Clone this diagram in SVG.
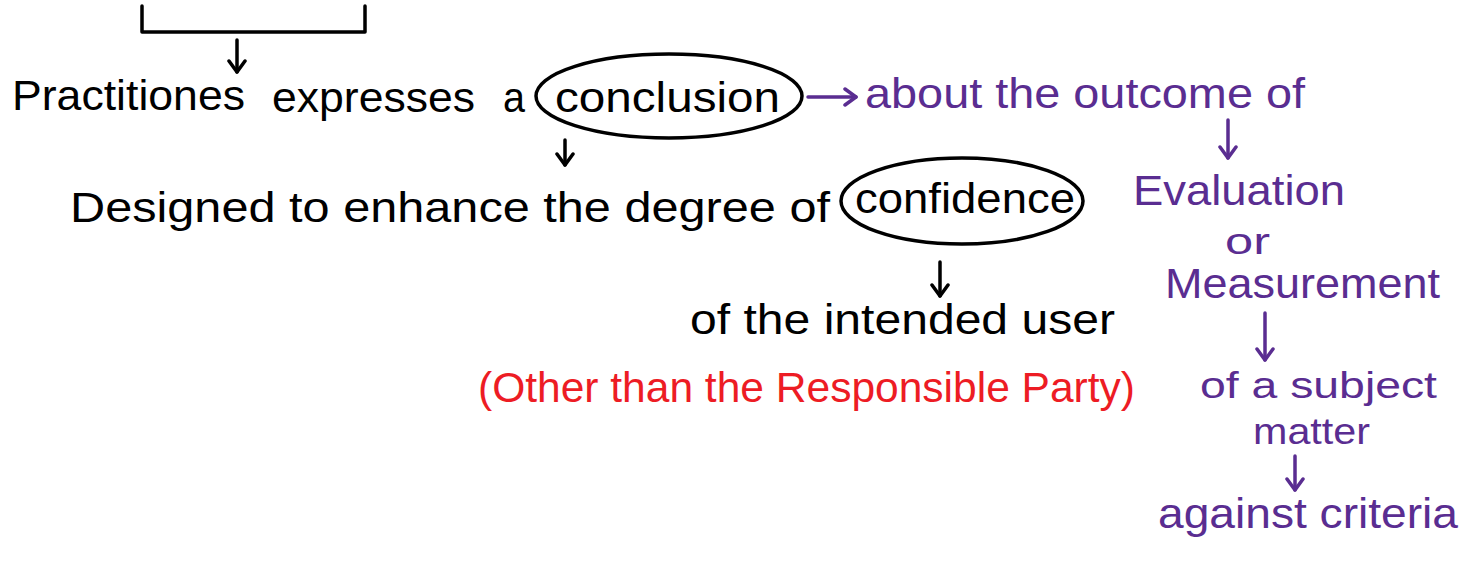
<svg xmlns="http://www.w3.org/2000/svg" width="1461" height="567" viewBox="0 0 1461 567">
<style>
text{font-family:"Liberation Sans","DejaVu Sans",sans-serif;font-size:42px;}
.k{fill:#000;}
.p{fill:#5a2d91;}
.r{fill:#ed1c24;}
.sm{font-size:36px;}
.line{fill:none;stroke-width:3.5;stroke-linecap:round;stroke-linejoin:round;}
.ck{stroke:#000;}
.cp{stroke:#5a2d91;}
</style>
<defs>
<marker id="hk" viewBox="0 0 20 20" refX="16" refY="10" markerWidth="20" markerHeight="20" markerUnits="userSpaceOnUse" orient="auto">
<path d="M5,2 L16,10 L5,18" fill="none" stroke="#000" stroke-width="3.5" stroke-linecap="round" stroke-linejoin="round"/>
</marker>
<marker id="hp" viewBox="0 0 20 20" refX="16" refY="10" markerWidth="20" markerHeight="20" markerUnits="userSpaceOnUse" orient="auto">
<path d="M5,2 L16,10 L5,18" fill="none" stroke="#5a2d91" stroke-width="3.5" stroke-linecap="round" stroke-linejoin="round"/>
</marker>
</defs>
<rect width="1461" height="567" fill="#fff"/>

<g id="bracket">
<path class="line ck" d="M142,6 L142,32 L365,32 L365,6"/>
</g>

<g id="node-practitioner">
<text class="k" x="12" y="110" textLength="233" lengthAdjust="spacingAndGlyphs">Practitiones</text>
<text class="k" x="272" y="112" textLength="203" lengthAdjust="spacingAndGlyphs">expresses</text>
<text class="k" x="503" y="112" textLength="22" lengthAdjust="spacingAndGlyphs">a</text>
</g>

<g id="node-conclusion">
<ellipse cx="669" cy="96" rx="133" ry="42" fill="none" stroke="#000" stroke-width="3.5"/>
<text class="k" x="555" y="112" textLength="225" lengthAdjust="spacingAndGlyphs">conclusion</text>
</g>

<g id="node-about">
<text class="p" x="865" y="108" textLength="440" lengthAdjust="spacingAndGlyphs">about the outcome of</text>
</g>

<g id="node-designed">
<text class="k" x="70" y="222" textLength="760" lengthAdjust="spacingAndGlyphs">Designed to enhance the degree of</text>
</g>

<g id="node-confidence">
<ellipse cx="962" cy="201" rx="121" ry="43" fill="none" stroke="#000" stroke-width="3.5"/>
<text class="k" x="855" y="213" textLength="220" lengthAdjust="spacingAndGlyphs">confidence</text>
</g>

<g id="node-user">
<text class="k" x="690" y="334" textLength="425" lengthAdjust="spacingAndGlyphs">of the intended user</text>
</g>

<g id="node-other">
<text class="r" x="478" y="402" textLength="657" lengthAdjust="spacingAndGlyphs">(Other than the Responsible Party)</text>
</g>

<g id="node-evaluation">
<text class="p" x="1133" y="205" textLength="212" lengthAdjust="spacingAndGlyphs">Evaluation</text>
<text class="p sm" x="1225" y="254" textLength="45" lengthAdjust="spacingAndGlyphs">or</text>
<text class="p" x="1165" y="298" textLength="275" lengthAdjust="spacingAndGlyphs">Measurement</text>
</g>

<g id="node-subject">
<text class="p sm" x="1200" y="398" textLength="237" lengthAdjust="spacingAndGlyphs">of a subject</text>
<text class="p sm" x="1253" y="444" textLength="117" lengthAdjust="spacingAndGlyphs">matter</text>
</g>

<g id="node-criteria">
<text class="p" x="1158" y="528" textLength="300" lengthAdjust="spacingAndGlyphs">against criteria</text>
</g>

<g id="connectors">
<path class="line ck" d="M237,40 L237,72" marker-end="url(#hk)"/>
<path class="line cp" d="M808,97 L856,97" marker-end="url(#hp)"/>
<path class="line ck" d="M565,140 L565,165" marker-end="url(#hk)"/>
<path class="line ck" d="M940,262 L940,296" marker-end="url(#hk)"/>
<path class="line cp" d="M1228,120 L1228,158" marker-end="url(#hp)"/>
<path class="line cp" d="M1265,313 L1265,360" marker-end="url(#hp)"/>
<path class="line cp" d="M1295,456 L1295,490" marker-end="url(#hp)"/>
</g>
</svg>
